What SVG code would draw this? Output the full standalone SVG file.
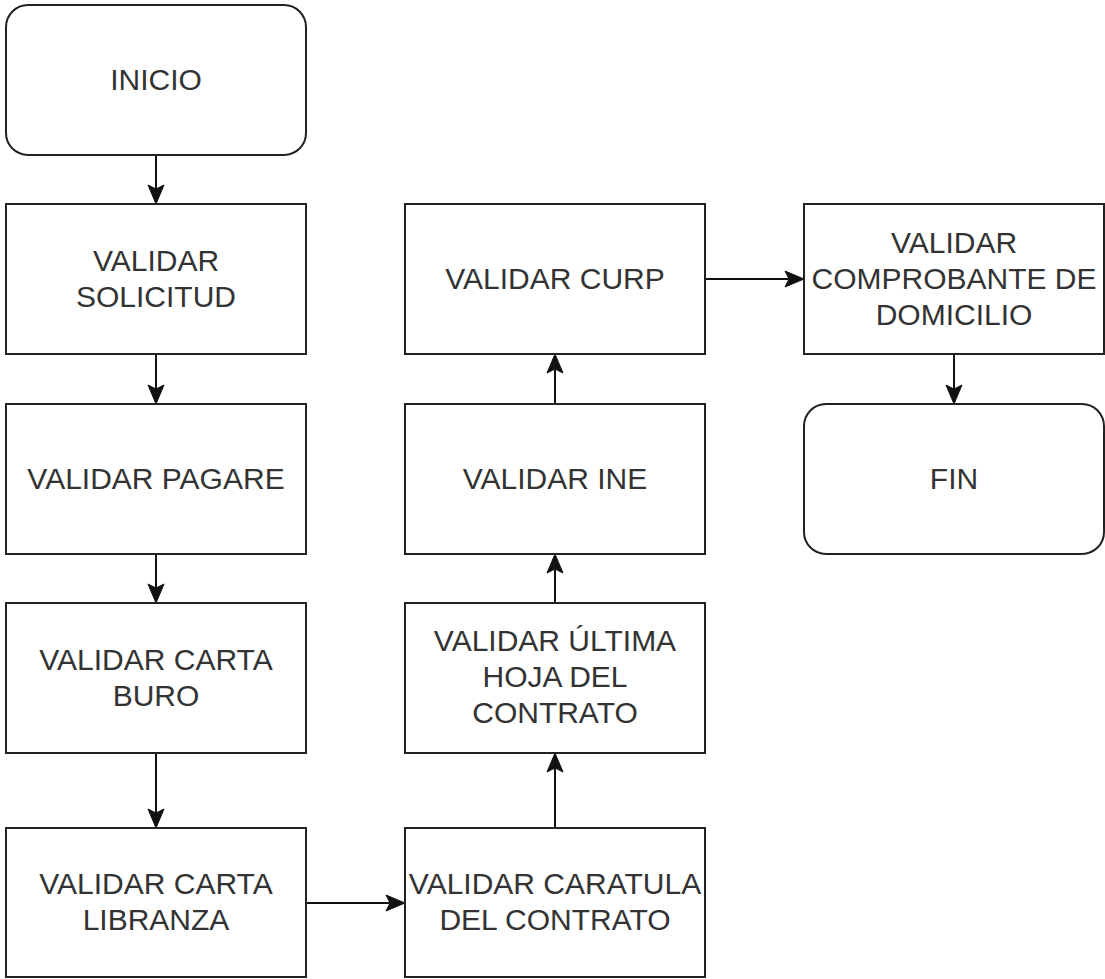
<svg xmlns="http://www.w3.org/2000/svg" width="1105" height="979" viewBox="0 0 1105 979">
  <style>
    .box { fill: #ffffff; stroke: #222222; stroke-width: 2; }
    .lbl { font-family: "Liberation Sans", Arial, sans-serif; font-size: 30px; fill: #333333; text-anchor: middle; }
    .edge { fill: none; stroke: #111111; stroke-width: 2; }
    .head { fill: #111111; stroke: #111111; stroke-width: 1; }
  </style>
  <rect width="1105" height="979" fill="#ffffff"/>

  <!-- connectors -->
  <g id="connectors">
    <!-- column 1, downward -->
    <line class="edge" x1="156" y1="155" x2="156" y2="192"/>
    <path class="head" d="M156,204 L148,185 L156,189 L164,185 Z"/>
    <line class="edge" x1="156" y1="354" x2="156" y2="392"/>
    <path class="head" d="M156,404 L148,385 L156,389 L164,385 Z"/>
    <line class="edge" x1="156" y1="554" x2="156" y2="591"/>
    <path class="head" d="M156,603 L148,584 L156,588 L164,584 Z"/>
    <line class="edge" x1="156" y1="753" x2="156" y2="816"/>
    <path class="head" d="M156,828 L148,809 L156,813 L164,809 Z"/>
    <!-- across to column 2 -->
    <line class="edge" x1="306" y1="903" x2="393" y2="903"/>
    <path class="head" d="M405,903 L386,895 L390,903 L386,911 Z"/>
    <!-- column 2, upward -->
    <line class="edge" x1="555" y1="828" x2="555" y2="765"/>
    <path class="head" d="M555,753 L547,772 L555,768 L563,772 Z"/>
    <line class="edge" x1="555" y1="603" x2="555" y2="566"/>
    <path class="head" d="M555,554 L547,573 L555,569 L563,573 Z"/>
    <line class="edge" x1="555" y1="404" x2="555" y2="366"/>
    <path class="head" d="M555,354 L547,373 L555,369 L563,373 Z"/>
    <!-- across to column 3 -->
    <line class="edge" x1="705" y1="279" x2="792" y2="279"/>
    <path class="head" d="M804,279 L785,271 L789,279 L785,287 Z"/>
    <!-- column 3, downward -->
    <line class="edge" x1="954" y1="354" x2="954" y2="392"/>
    <path class="head" d="M954,404 L946,385 L954,389 L962,385 Z"/>
  </g>

  <g id="inicio">
    <rect class="box" x="6" y="5" width="300" height="150" rx="22" ry="22"/>
    <text class="lbl" x="156" y="90">INICIO</text>
  </g>
  <g id="validar-solicitud">
    <rect class="box" x="6" y="204" width="300" height="150"/>
    <text class="lbl" x="156" y="271">VALIDAR</text>
    <text class="lbl" x="156" y="307">SOLICITUD</text>
  </g>
  <g id="validar-pagare">
    <rect class="box" x="6" y="404" width="300" height="150"/>
    <text class="lbl" x="156" y="489">VALIDAR PAGARE</text>
  </g>
  <g id="validar-carta-buro">
    <rect class="box" x="6" y="603" width="300" height="150"/>
    <text class="lbl" x="156" y="670">VALIDAR CARTA</text>
    <text class="lbl" x="156" y="706">BURO</text>
  </g>
  <g id="validar-carta-libranza">
    <rect class="box" x="6" y="828" width="300" height="149"/>
    <text class="lbl" x="156" y="894">VALIDAR CARTA</text>
    <text class="lbl" x="156" y="930">LIBRANZA</text>
  </g>
  <g id="validar-caratula">
    <rect class="box" x="405" y="828" width="300" height="149"/>
    <text class="lbl" x="555" y="894">VALIDAR CARATULA</text>
    <text class="lbl" x="555" y="930">DEL CONTRATO</text>
  </g>
  <g id="validar-ultima-hoja">
    <rect class="box" x="405" y="603" width="300" height="150"/>
    <text class="lbl" x="555" y="651">VALIDAR ÚLTIMA</text>
    <text class="lbl" x="555" y="687">HOJA DEL</text>
    <text class="lbl" x="555" y="723">CONTRATO</text>
  </g>
  <g id="validar-ine">
    <rect class="box" x="405" y="404" width="300" height="150"/>
    <text class="lbl" x="555" y="489">VALIDAR INE</text>
  </g>
  <g id="validar-curp">
    <rect class="box" x="405" y="204" width="300" height="150"/>
    <text class="lbl" x="555" y="289">VALIDAR CURP</text>
  </g>
  <g id="validar-comprobante">
    <rect class="box" x="804" y="204" width="300" height="150"/>
    <text class="lbl" x="954" y="253">VALIDAR</text>
    <text class="lbl" x="954" y="289">COMPROBANTE DE</text>
    <text class="lbl" x="954" y="325">DOMICILIO</text>
  </g>
  <g id="fin">
    <rect class="box" x="804" y="404" width="300" height="150" rx="22" ry="22"/>
    <text class="lbl" x="954" y="489">FIN</text>
  </g>
</svg>
